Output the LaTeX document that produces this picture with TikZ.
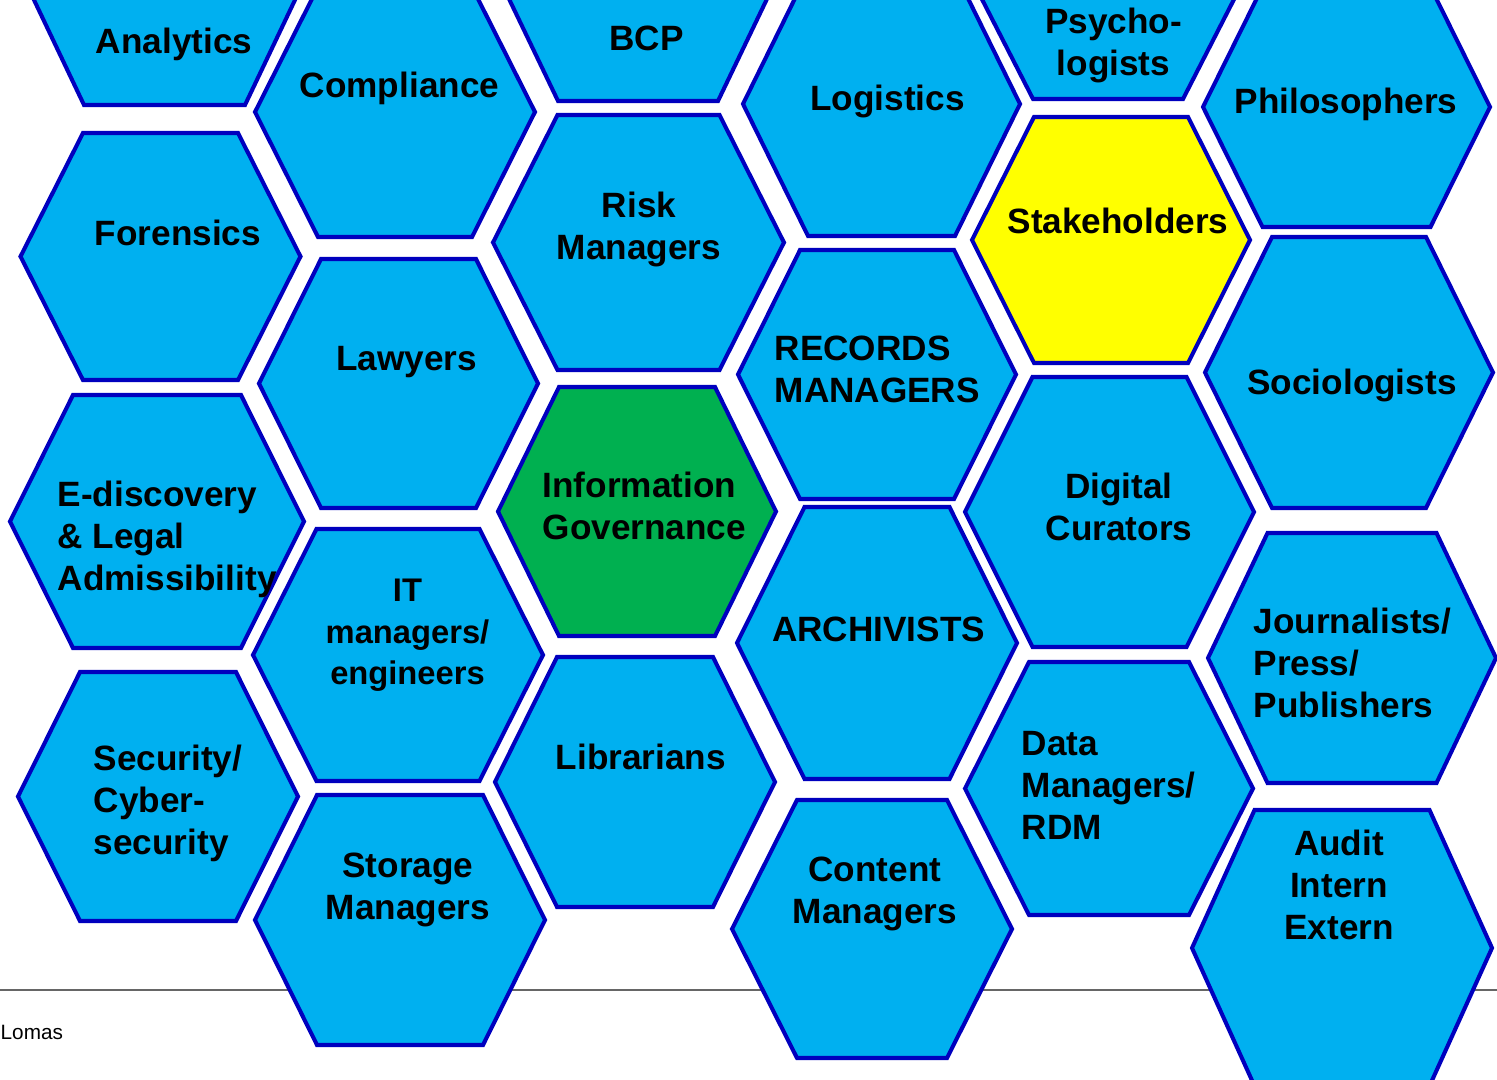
\documentclass[tikz,border=0pt]{standalone}
\usepackage{fontspec}
\setmainfont{Liberation Sans}
\definecolor{cellblue}{RGB}{0,176,240}
\definecolor{cellgreen}{RGB}{0,176,80}
\definecolor{cellyellow}{RGB}{255,255,0}
\definecolor{celledge}{RGB}{0,0,190}

% one cell of the honeycomb: centre x, centre y, half width, half height, half top edge, fill
\newcommand{\hexcell}[6]{%
  \draw[hexagon,fill=#6,shift={(#1,#2)}]
  (-#3,0)--(-#5,-#4)--(#5,-#4)--(#3,0)--(#5,#4)--(-#5,#4)--cycle;
}

\begin{document}
\begin{tikzpicture}[x=0.01cm,y=-0.01cm]
    \tikzstyle{every node} = [font=\fontsize{10}{11.95}\selectfont\bfseries, inner sep=0pt, text=black]
    \tikzstyle{hexagon} = [draw=celledge, line width=1.15pt, line join=miter]
    \tikzstyle{centred} = [anchor=north, align=center]
    \tikzstyle{flushleft} = [anchor=north west, align=left]
    \useasboundingbox (0,0) rectangle (1497,1080);

    % footer rule
    \coordinate (ruleW) at (0,990);
    \coordinate (ruleE) at (1497,990);
    \draw[black!60,line width=0.4pt] (ruleW)--(ruleE);
    \node[font=\fontsize{5.9}{7}\selectfont, anchor=base west] (lomas) at (0,1039) {Lomas};

    % cells
    \hexcell{164.5}{-20}{140}{125}{80.5}{cellblue}
    \hexcell{160.5}{256.5}{140}{123.5}{77.5}{cellblue}
    \hexcell{157}{521.5}{147}{126.5}{84}{cellblue}
    \hexcell{158}{796.5}{140}{124.5}{78}{cellblue}

    \hexcell{395}{112}{140}{125}{77}{cellblue}
    \hexcell{398.5}{383.5}{139.5}{124.5}{77.5}{cellblue}
    \hexcell{398}{655}{145}{126}{81.5}{cellblue}
    \hexcell{400}{920}{145}{125}{83}{cellblue}

    \hexcell{638}{-24}{140}{125}{80}{cellblue}
    \hexcell{638.5}{242.5}{145.5}{127.5}{81}{cellblue}
    \hexcell{637}{511.5}{139}{124.5}{78}{cellgreen}
    \hexcell{635}{782}{140}{125}{78}{cellblue}

    \hexcell{881.5}{104}{138.5}{132}{73.5}{cellblue}
    \hexcell{877}{374.5}{139}{124.5}{77}{cellblue}
    \hexcell{877}{643}{140}{136}{72.5}{cellblue}
    \hexcell{872}{929}{140}{129}{75}{cellblue}

    \hexcell{1108}{-28}{140}{127}{75}{cellblue}
    \hexcell{1111}{240}{139}{123}{77}{cellyellow}
    \hexcell{1109.5}{512}{144.5}{135}{77}{cellblue}
    \hexcell{1109}{788.5}{144}{126.5}{80}{cellblue}

    \hexcell{1346.5}{107}{143.5}{120}{84}{cellblue}
    \hexcell{1349}{372.5}{144}{135.5}{77}{cellblue}
    \hexcell{1352}{658}{144}{125}{84.5}{cellblue}
    \hexcell{1342}{948}{150}{138}{87.5}{cellblue}

    % labels
    \node[centred] (analytics) at (174,27.8) {Analytics};
    \node[centred] (forensics) at (178,219.5) {Forensics};
    \node[flushleft] (ediscovery) at (57,480.5) {E-discovery\\\& Legal\\Admissibility};
    \node[flushleft] (security) at (93,744.5) {Security/\\Cyber-\\security};

    \node[centred] (compliance) at (399.5,71.8) {Compliance};
    \node[centred] (lawyers) at (406.5,345.2) {Lawyers};
    \node[centred, font=\fontsize{9.3}{11.8}\selectfont\bfseries] (itmanagers) at (407.5,578.6) {IT\\managers/\\engineers};
    \node[centred] (storage) at (408,852.5) {Storage\\Managers};

    \node[centred] (bcp) at (646.5,25.2) {BCP};
    \node[centred] (risk) at (639,191.2) {Risk\\Managers};
    \node[flushleft] (infogov) at (542,471.5) {Information\\Governance};
    \node[centred] (librarians) at (641,743.5) {Librarians};

    \node[centred] (logistics) at (887.5,84.5) {Logistics};
    \node[flushleft] (records) at (774,335.2) {RECORDS\\MANAGERS};
    \node[centred] (archivists) at (878.5,616.2) {ARCHIVISTS};
    \node[centred] (content) at (875,856.5) {Content\\Managers};

    \node[centred] (psychologists) at (1113.5,7.8) {Psycho-\\logists};
    \node[centred] (stakeholders) at (1118,207.8) {Stakeholders};
    \node[centred] (curators) at (1119,472.5) {Digital\\Curators};
    \node[flushleft] (datamanagers) at (1021,730.5) {Data\\Managers/\\RDM};

    \node[centred] (philosophers) at (1346,87.8) {Philosophers};
    \node[centred] (sociologists) at (1352,368.5) {Sociologists};
    \node[flushleft] (journalists) at (1253,607.5) {Journalists/\\Press/\\Publishers};
    \node[centred] (audit) at (1339,829.5) {Audit\\Intern\\Extern};
  \end{tikzpicture}
\end{document}
